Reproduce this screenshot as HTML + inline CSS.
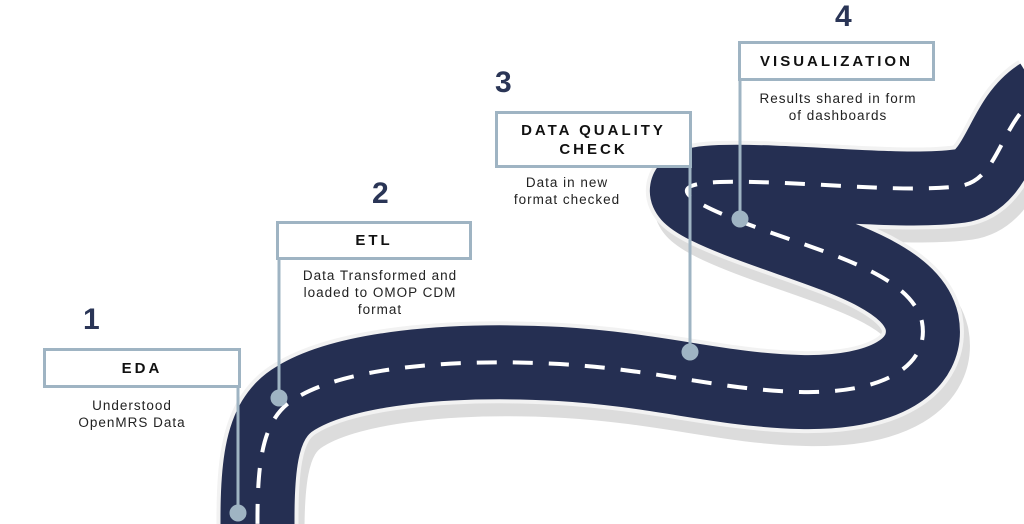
<!DOCTYPE html>
<html><head><style>
html,body{margin:0;width:1024px;height:524px;overflow:hidden}
body{background:#fff;font-family:"Liberation Sans",sans-serif;position:relative}
.num{position:absolute;font-weight:bold;font-size:30px;color:#2a3556}
.box{position:absolute;border:3px solid #9fb4c3;background:#fff;box-sizing:border-box;text-align:center;font-weight:bold;letter-spacing:3px;font-size:15px;color:#111;display:flex;align-items:center;justify-content:center;line-height:19px}
.desc{position:absolute;text-align:center;font-size:13.5px;letter-spacing:1px;color:#222;line-height:17px}
svg{position:absolute;left:0;top:0}
</style></head><body>
<svg width="1024" height="524" viewBox="0 0 1024 524">
<g fill="none" stroke-linecap="butt" stroke-linejoin="round">
<path d="M258 560 C256 470 258 420 296 398 C345 368 450 358 560 364 C660 370 720 390 800 392 C885 394 930 365 922 322 C910 272 820 252 742 222 C690 202 660 184 720 182 C800 180 900 194 960 186 C1000 180 1000 120 1040 95" stroke="#dcdcdc" stroke-width="80" transform="translate(7,14)"/>
<path d="M258 560 C256 470 258 420 296 398 C345 368 450 358 560 364 C660 370 720 390 800 392 C885 394 930 365 922 322 C910 272 820 252 742 222 C690 202 660 184 720 182 C800 180 900 194 960 186 C1000 180 1000 120 1040 95" stroke="#f2f2f2" stroke-width="82"/>
<path d="M258 560 C256 470 258 420 296 398 C345 368 450 358 560 364 C660 370 720 390 800 392 C885 394 930 365 922 322 C910 272 820 252 742 222 C690 202 660 184 720 182 C800 180 900 194 960 186 C1000 180 1000 120 1040 95" stroke="#252f52" stroke-width="74"/>
<path d="M258 560 C256 470 258 420 296 398 C345 368 450 358 560 364 C660 370 720 390 800 392 C885 394 930 365 922 322 C910 272 820 252 742 222 C690 202 660 184 720 182 C800 180 900 194 960 186 C1000 180 1000 120 1040 95" stroke="#fff" stroke-width="4" stroke-dasharray="20 16"/>
</g>
<g stroke="#9fb4c3" stroke-width="3" fill="#9fb4c3">
<line x1="238" y1="385" x2="238" y2="513"/><circle cx="238" cy="513" r="7"/>
<line x1="279" y1="257" x2="279" y2="398"/><circle cx="279" cy="398" r="7"/>
<line x1="690" y1="165" x2="690" y2="352"/><circle cx="690" cy="352" r="7"/>
<line x1="740" y1="78" x2="740" y2="219"/><circle cx="740" cy="219" r="7"/>
</g>
</svg>
<div class="num" style="left:83px;top:303px">1</div>
<div class="num" style="left:372px;top:177px">2</div>
<div class="num" style="left:495px;top:66px">3</div>
<div class="num" style="left:835px;top:0px">4</div>
<div class="box" style="left:43px;top:348px;width:198px;height:40px">EDA</div>
<div class="box" style="left:276px;top:221px;width:196px;height:39px">ETL</div>
<div class="box" style="left:495px;top:111px;width:197px;height:57px">DATA QUALITY<br>CHECK</div>
<div class="box" style="left:738px;top:41px;width:197px;height:40px">VISUALIZATION</div>
<div class="desc" style="left:42px;top:397px;width:180px">Understood<br>OpenMRS Data</div>
<div class="desc" style="left:280px;top:267px;width:200px">Data Transformed and<br>loaded to OMOP CDM<br>format</div>
<div class="desc" style="left:497px;top:174px;width:140px">Data in new<br>format checked</div>
<div class="desc" style="left:738px;top:90px;width:200px">Results shared in form<br>of dashboards</div>
</body></html>
